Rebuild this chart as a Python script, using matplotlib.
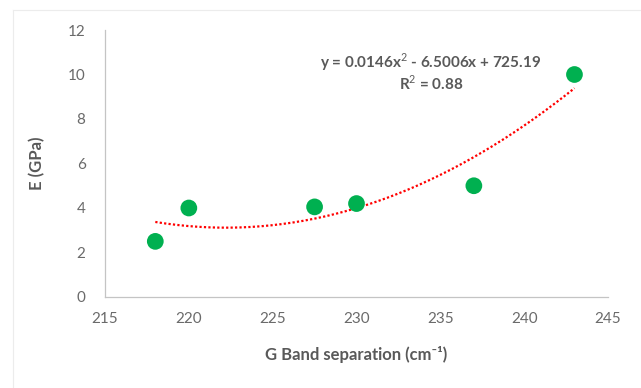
import numpy as np
import matplotlib.pyplot as plt
from matplotlib.lines import Line2D

# data
g_band = [218, 220, 227.5, 230, 237, 243]
modulus = [2.5, 4.0, 4.05, 4.2, 5.0, 10.0]
x_ticks = [215, 220, 225, 230, 235, 240, 245]
y_ticks = [0, 2, 4, 6, 8, 10, 12]
eq_text = "y = 0.0146x$^{2}$ - 6.5006x + 725.19"
r2_text = "R$^{2}$ = 0.88"

plt.rcParams['font.family'] = ['Lato', 'DejaVu Sans']
plt.rcParams['mathtext.fontset'] = 'custom'
plt.rcParams['mathtext.rm'] = 'Lato'
plt.rcParams['mathtext.bf'] = 'Lato:bold'

grey = '#595959'

fig = plt.figure(figsize=(6.41, 3.88), dpi=100)
ax = fig.add_axes([105 / 641, 1 - 297 / 388, 503 / 641, 267 / 388])

# faint chart frame (left and top edges)
fig.add_artist(Line2D([12.5 / 641, 12.5 / 641], [0, 1 - 10 / 388], color='#ececec', lw=0.8))
fig.add_artist(Line2D([12.5 / 641, 1], [1 - 10 / 388, 1 - 10 / 388], color='#ececec', lw=0.8))

# polynomial trendline
coef = np.polyfit(g_band, modulus, 2)
xs = np.linspace(min(g_band), max(g_band), 200)
ax.plot(xs, np.polyval(coef, xs), color='red', lw=1.6, ls=(0, (1, 1)), zorder=2)

ax.scatter(g_band, modulus, s=145, color='#00b050', edgecolors='none', zorder=3)

ax.set_xlim(215, 245)
ax.set_ylim(0, 12)
ax.set_xticks(x_ticks)
ax.set_yticks(y_ticks)
ax.tick_params(length=0, labelsize=11, colors='#6a6a6a', pad=11)
ax.tick_params(axis='y', pad=14)
for s in ['top', 'right']:
    ax.spines[s].set_visible(False)
for s in ['left', 'bottom']:
    ax.spines[s].set_color('#c4c4c4')
    ax.spines[s].set_linewidth(0.9)

ax.set_xlabel("G Band separation (cm\u207b\u00b9)", fontsize=12, fontweight='bold', color=grey, labelpad=14)
ax.set_ylabel("E (GPa)", fontsize=12, fontweight='bold', color=grey, labelpad=16)

fig.text(431 / 641, 1 - 62 / 388, eq_text, ha='center', va='center', fontsize=11,
         fontweight='bold', color=grey)
fig.text(431 / 641, 1 - 83 / 388, r2_text, ha='center', va='center', fontsize=11,
         fontweight='bold', color=grey)

fig.savefig('out.png', dpi=100)
